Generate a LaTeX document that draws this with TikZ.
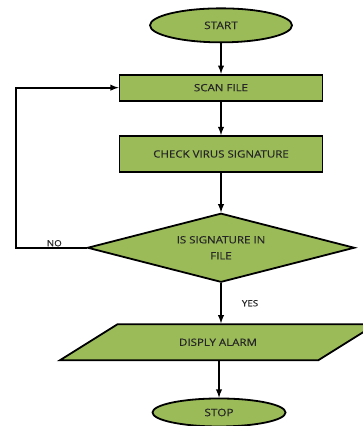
\documentclass[tikz,border=0pt]{standalone}
\usepackage{fontspec}
\setmainfont{Open Sans}[FakeStretch=1.15, FakeBold=0.4]
\usetikzlibrary{arrows,shapes.geometric,positioning}
\definecolor{leaf}{HTML}{9BBB59}

\begin{document}
\begin{tikzpicture}[auto, x=1pt, y=-1pt]
\tikzstyle{terminal} = [ellipse, draw=black, line width=1.8pt, fill=leaf,
inner sep=0pt, text=black!85, font=\fontsize{10.3}{16}\selectfont]
\tikzstyle{block} = [rectangle, draw=black, line width=1.8pt, fill=leaf,
minimum width=203pt, text=black!85, font=\fontsize{10}{16}\selectfont]
\tikzstyle{decision} = [diamond, aspect=3.9, draw=black, line width=1.8pt, fill=leaf,
minimum width=267pt, minimum height=69pt, inner sep=0pt, align=center,
text=black!85, font=\fontsize{10}{16}\selectfont]
\tikzstyle{io} = [trapezium, trapezium left angle=32, trapezium right angle=148,
trapezium stretches body, draw=black, line width=1.8pt, fill=leaf,
minimum width=316pt, text height=7.3pt, text depth=0pt, inner ysep=14.35pt,
text=black!85, font=\fontsize{10}{16}\selectfont]
\tikzstyle{tag} = [text=black!85, font=\fontsize{8.5}{10}\selectfont, inner sep=1pt]
\useasboundingbox (0,0) rectangle (363,426);
% matrix is centred on its widest row (the alarm box, cut by the right edge)
\matrix [row sep=30.5pt, inner sep=0pt, anchor=north] at (218,7.25)
{
% row 1
\node [terminal, minimum width=142pt, minimum height=34pt] (start) {START}; \\
% row 2
\node [block, minimum height=26pt] (scan) {SCAN FILE}; \\[3pt]
% row 3
\node [block, minimum height=36pt] (check) {CHECK VIRUS SIGNATURE}; \\[9pt]
% row 4
\node [decision] (sig) {IS SIGNATURE IN\\FILE}; \\[10pt]
% row 5
\node [io, xshift=-3pt] (alarm) {DISPLY ALARM}; \\[6pt]
% row 6
\node [terminal, xshift=-2pt, minimum width=133pt, minimum height=28pt] (stop) {STOP}; \\
};
\coordinate (back) at (16,88);
\tikzstyle{every path}=[draw, line width=1.8pt, -latex]
\path (start) -- (scan);
\path (scan) -- (check);
\path (check) -- (sig);
\path (sig) -- node[tag, right=19pt] {YES} (sig |- alarm.north);
\path (stop |- alarm.south) -- (stop);
\path (sig.west) -- node[tag, above, inner sep=0.5pt, xshift=3pt] {NO} (sig.west -| back) |- (scan.west);
\end{tikzpicture}
\end{document}
